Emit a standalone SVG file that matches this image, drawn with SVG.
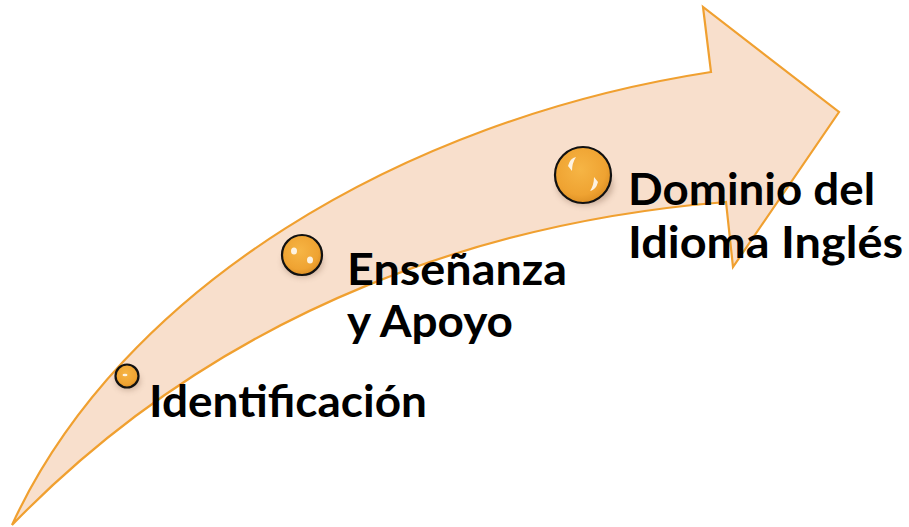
<svg xmlns="http://www.w3.org/2000/svg" width="909" height="527" viewBox="0 0 909 527">
<style>
.lbl{font-family:Lato,"Open Sans","Liberation Sans",sans-serif;font-weight:bold;font-size:43px;fill:#000}
.ball{fill:url(#bg);stroke:#111;stroke-width:2.2}
.hl{fill:#fff;opacity:0.85}
</style>
<defs>
<radialGradient id="bg" cx="0.45" cy="0.4" r="0.65">
<stop offset="0" stop-color="#F6B545"/>
<stop offset="0.7" stop-color="#EFA332"/>
<stop offset="1" stop-color="#D88A20"/>
</radialGradient>
<filter id="sh" x="-50%" y="-50%" width="200%" height="200%">
<feGaussianBlur stdDeviation="3"/>
</filter>
</defs>
<g id="arrow">
<path d="M12,525 C120,290 400,120 711,72 L703,7 L839,112 L733,267 L726,202 C500,220 230,300 12,525 Z" fill="#F8DFCC" stroke="#F0A030" stroke-width="2.2" stroke-linejoin="miter"/>
</g>
<g id="node-identificacion">
<ellipse cx="128" cy="381" rx="12" ry="9" fill="#8a6a55" opacity="0.45" filter="url(#sh)"/>
<circle class="ball" cx="127" cy="376" r="11.5"/>
<ellipse class="hl" cx="125" cy="375" rx="2.5" ry="1.2"/>
<text class="lbl" x="149" y="417" textLength="278" lengthAdjust="spacingAndGlyphs">Identificación</text>
</g>
<g id="node-ensenanza">
<ellipse cx="303" cy="262" rx="20" ry="15" fill="#8a6a55" opacity="0.45" filter="url(#sh)"/>
<circle class="ball" cx="302" cy="255" r="20"/>
<ellipse class="hl" cx="294" cy="251" rx="3" ry="3.5"/>
<ellipse class="hl" cx="310" cy="260" rx="3" ry="3.5"/>
<text class="lbl" x="347" y="285" textLength="220" lengthAdjust="spacingAndGlyphs">Enseñanza</text>
<text class="lbl" x="347" y="337" textLength="166" lengthAdjust="spacingAndGlyphs">y Apoyo</text>
</g>
<g id="node-dominio">
<ellipse cx="585" cy="185" rx="28" ry="20" fill="#8a6a55" opacity="0.45" filter="url(#sh)"/>
<circle class="ball" cx="583" cy="175" r="28"/>
<path class="hl" d="M568,166 q2,-8 8,-9 q-4,6 -4,14 z"/>
<path class="hl" d="M598,182 q-2,8 -8,9 q4,-6 4,-14 z"/>
<text class="lbl" x="628" y="205" textLength="247" lengthAdjust="spacingAndGlyphs">Dominio del</text>
<text class="lbl" x="628" y="258" textLength="275" lengthAdjust="spacingAndGlyphs">Idioma Inglés</text>
</g>
<g id="connectors"></g>
</svg>
